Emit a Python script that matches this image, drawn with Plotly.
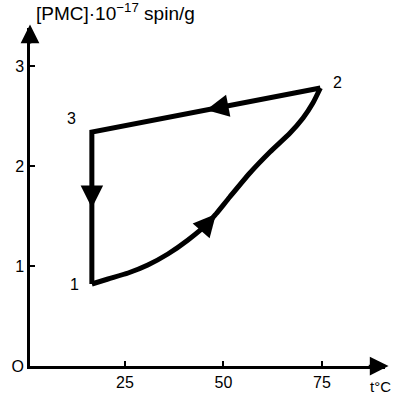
import plotly.graph_objects as go

# Loop data: 1 -> 2 (heating curve), 2 -> 3 (cooling), 3 -> 1 (drop)
heat_t = [16.6, 20.7, 25.8, 30.8, 35.9, 41.0, 46.1, 48.1, 51.6, 56.7, 61.8, 66.9, 70.2, 72.7, 74.6]
heat_c = [0.82, 0.87, 0.93, 1.01, 1.12, 1.26, 1.43, 1.52, 1.69, 1.93, 2.14, 2.33, 2.48, 2.63, 2.78]
cool_t = [74.6, 16.6]
cool_c = [2.78, 2.34]
drop_t = [16.6, 16.6]
drop_c = [2.34, 0.82]

point_labels = ["1", "2", "3"]
point_t = [16.6, 74.6, 16.6]
point_c = [0.82, 2.78, 2.34]

x_ticks = [25, 50, 75]
y_ticks = [0, 1, 2, 3]

font = dict(family="Liberation Sans, Arial, sans-serif", color="black")

fig = go.Figure()
fig.add_trace(go.Scatter(x=heat_t, y=heat_c, mode="lines",
                         line=dict(color="black", width=5, shape="spline", smoothing=0.6),
                         hoverinfo="skip"))
fig.add_trace(go.Scatter(x=cool_t + drop_t[1:], y=cool_c + drop_c[1:], mode="lines",
                         line=dict(color="black", width=5), hoverinfo="skip"))

anns = []
# point labels
offsets = [(-17, 0), (17, 6), (-20, 14)]
for lab, t, c, (dx, dy) in zip(point_labels, point_t, point_c, offsets):
    anns.append(dict(x=t, y=c, text=lab, showarrow=False, xshift=dx, yshift=dy,
                     font=dict(size=16, **font)))

def seg_arrow(t0, c0, t1, c1, f, back=0.05):
    tip_t = t0 + (t1 - t0) * f
    tip_c = c0 + (c1 - c0) * f
    tail_t = t0 + (t1 - t0) * (f - back)
    tail_c = c0 + (c1 - c0) * (f - back)
    return dict(x=tip_t, y=tip_c, ax=tail_t, ay=tail_c, xref="x", yref="y",
                axref="x", ayref="y", showarrow=True, arrowhead=2,
                arrowsize=1.8, arrowwidth=2.5, arrowcolor="black", text="")

anns.append(seg_arrow(cool_t[0], cool_c[0], cool_t[1], cool_c[1], 0.5))
anns.append(seg_arrow(drop_t[0], drop_c[0], drop_t[1], drop_c[1], 0.5, 0.1))
anns.append(seg_arrow(heat_t[6], heat_c[6], heat_t[7], heat_c[7], 1.0, 1.0))

# axis arrowheads
anns.append(dict(x=1.01, y=0, ax=0.95, ay=0, xref="x domain", yref="y domain",
                 axref="x domain", ayref="y domain", showarrow=True, arrowhead=2,
                 arrowsize=1.5, arrowwidth=2.5, arrowcolor="black", text=""))
anns.append(dict(x=0, y=1.01, ax=0, ay=0.95, xref="x domain", yref="y domain",
                 axref="x domain", ayref="y domain", showarrow=True, arrowhead=2,
                 arrowsize=1.5, arrowwidth=2.5, arrowcolor="black", text=""))

# axis titles
anns.append(dict(x=0.012, y=1.0, xref="x domain", yref="y domain", xanchor="left",
                 yanchor="bottom", yshift=2, showarrow=False,
                 text="[PMC]·10<sup>−17</sup> spin/g", font=dict(size=19, **font)))
anns.append(dict(x=1.0, y=0, xref="paper", yref="paper", xanchor="center",
                 yanchor="top", xshift=-5, yshift=-10, showarrow=False,
                 text="t°C", font=dict(size=15, **font)))

fig.update_layout(
    width=395, height=397,
    margin=dict(l=30, r=10, t=28, b=31),
    paper_bgcolor="white", plot_bgcolor="white",
    showlegend=False,
    annotations=anns,
    xaxis=dict(range=[0.9, 91], tickvals=x_ticks, ticktext=[str(v) for v in x_ticks],
               showgrid=False, zeroline=False, showline=True, linewidth=2.5,
               linecolor="black", ticks="inside", ticklen=5, tickwidth=2,
               tickcolor="black", tickfont=dict(size=16, **font), automargin=False),
    yaxis=dict(range=[0, 3.38], tickvals=y_ticks, ticktext=["O", "1", "2", "3"],
               showgrid=False, zeroline=False, showline=True, linewidth=2.5,
               linecolor="black", ticks="inside", ticklen=5, tickwidth=2,
               tickcolor="black", tickfont=dict(size=16, **font), automargin=False),
)

fig.write_html("out.html", config={"displayModeBar": False},
               post_script="document.body.style.margin='0px';")
